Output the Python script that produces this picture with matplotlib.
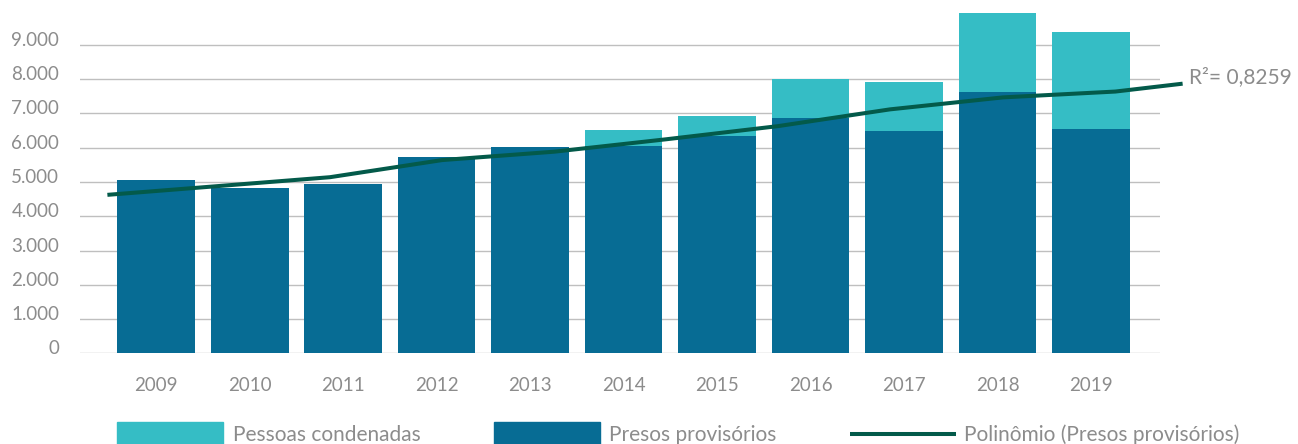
import numpy as np
import matplotlib
matplotlib.use("Agg")
import matplotlib.pyplot as plt
from matplotlib.patches import Rectangle
from matplotlib.lines import Line2D
from matplotlib.ticker import FuncFormatter
import matplotlib.transforms as mtransforms

plt.rcParams['font.family'] = ['Lato', 'DejaVu Sans']

# data
years = [2009, 2010, 2011, 2012, 2013, 2014, 2015, 2016, 2017, 2018, 2019]
presos_provisorios = [5060, 4825, 4940, 5730, 6020, 6050, 6350, 6870, 6490, 7630, 6550]
pessoas_condenadas = [0, 0, 0, 0, 0, 470, 580, 1140, 1430, 2300, 2830]

# polynomial trend (Presos provisórios), sampled points
trend_years = [2008.48, 2009.66, 2010.86, 2012.06, 2013.26, 2014.45,
               2015.65, 2016.85, 2018.06, 2019.26, 2019.98]
trend_vals = [4625, 4880, 5140, 5640, 5885, 6245, 6630, 7120, 7470, 7640, 7870]
r2_label = "R\u00b2= 0,8259"

c_light = '#35BDC5'
c_dark = '#076C94'
c_line = '#035A4A'
c_text = '#8C8C8C'
c_grid = '#BFBFBF'

W, H = 1298, 444
fig = plt.figure(figsize=(W / 100, H / 100), dpi=100)
ax = fig.add_axes([80 / W, (H - 353.3) / H, 1080 / W, 342.6 / H])

x = np.arange(len(years))
ax.bar(x, presos_provisorios, width=0.834, color=c_dark, zorder=2)
ax.bar(x, pessoas_condenadas, width=0.834, bottom=presos_provisorios,
       color=c_light, zorder=2)

tx = np.array(trend_years) - years[0]
ax.plot(tx, trend_vals, color=c_line, lw=2.9, zorder=3, clip_on=False,
        solid_capstyle='butt')

ax.set_xlim(-0.813, 10.738)
ax.set_ylim(0, 10000)
ax.set_yticks(np.arange(0, 9001, 1000))
ax.yaxis.set_major_formatter(FuncFormatter(lambda v, p: f"{int(v):,}".replace(",", ".")))
ax.set_xticks(x)
ax.set_xticklabels([str(y) for y in years])

ax.yaxis.grid(True, color=c_grid, lw=1)
ax.set_axisbelow(True)
for s in ax.spines.values():
    s.set_visible(False)
ax.tick_params(axis='both', length=0, colors=c_text, labelsize=13.5)
ax.tick_params(axis='y', pad=15)
ax.tick_params(axis='x', pad=17)

# y labels sit slightly above their gridlines
offset = mtransforms.ScaledTranslation(0, 6 / 100, fig.dpi_scale_trans)
for lab in ax.get_yticklabels():
    lab.set_transform(lab.get_transform() + offset)

# trendline R² label
fig.text(1189 / W, 1 - 83 / H, r2_label, color=c_text, fontsize=15,
         ha='left', va='baseline')

# legend drawn along the bottom
def fy(py):
    return 1 - py / H

fig.add_artist(Rectangle((117 / W, fy(446)), 106 / W, 24 / H,
                         color=c_light, transform=fig.transFigure))
fig.add_artist(Rectangle((494 / W, fy(446)), 106 / W, 24 / H,
                         color=c_dark, transform=fig.transFigure))
fig.add_artist(Line2D([850 / W, 956 / W], [fy(434), fy(434)], color=c_line,
                      lw=2.9, transform=fig.transFigure, solid_capstyle='butt'))
fig.text(233 / W, fy(441), "Pessoas condenadas", color=c_text, fontsize=15,
         va='baseline')
fig.text(609 / W, fy(441), "Presos provisórios", color=c_text, fontsize=15,
         va='baseline')
fig.text(964 / W, fy(441), "Polinômio (Presos provisórios)", color=c_text,
         fontsize=15, va='baseline')

fig.savefig("out.png", dpi=100)
